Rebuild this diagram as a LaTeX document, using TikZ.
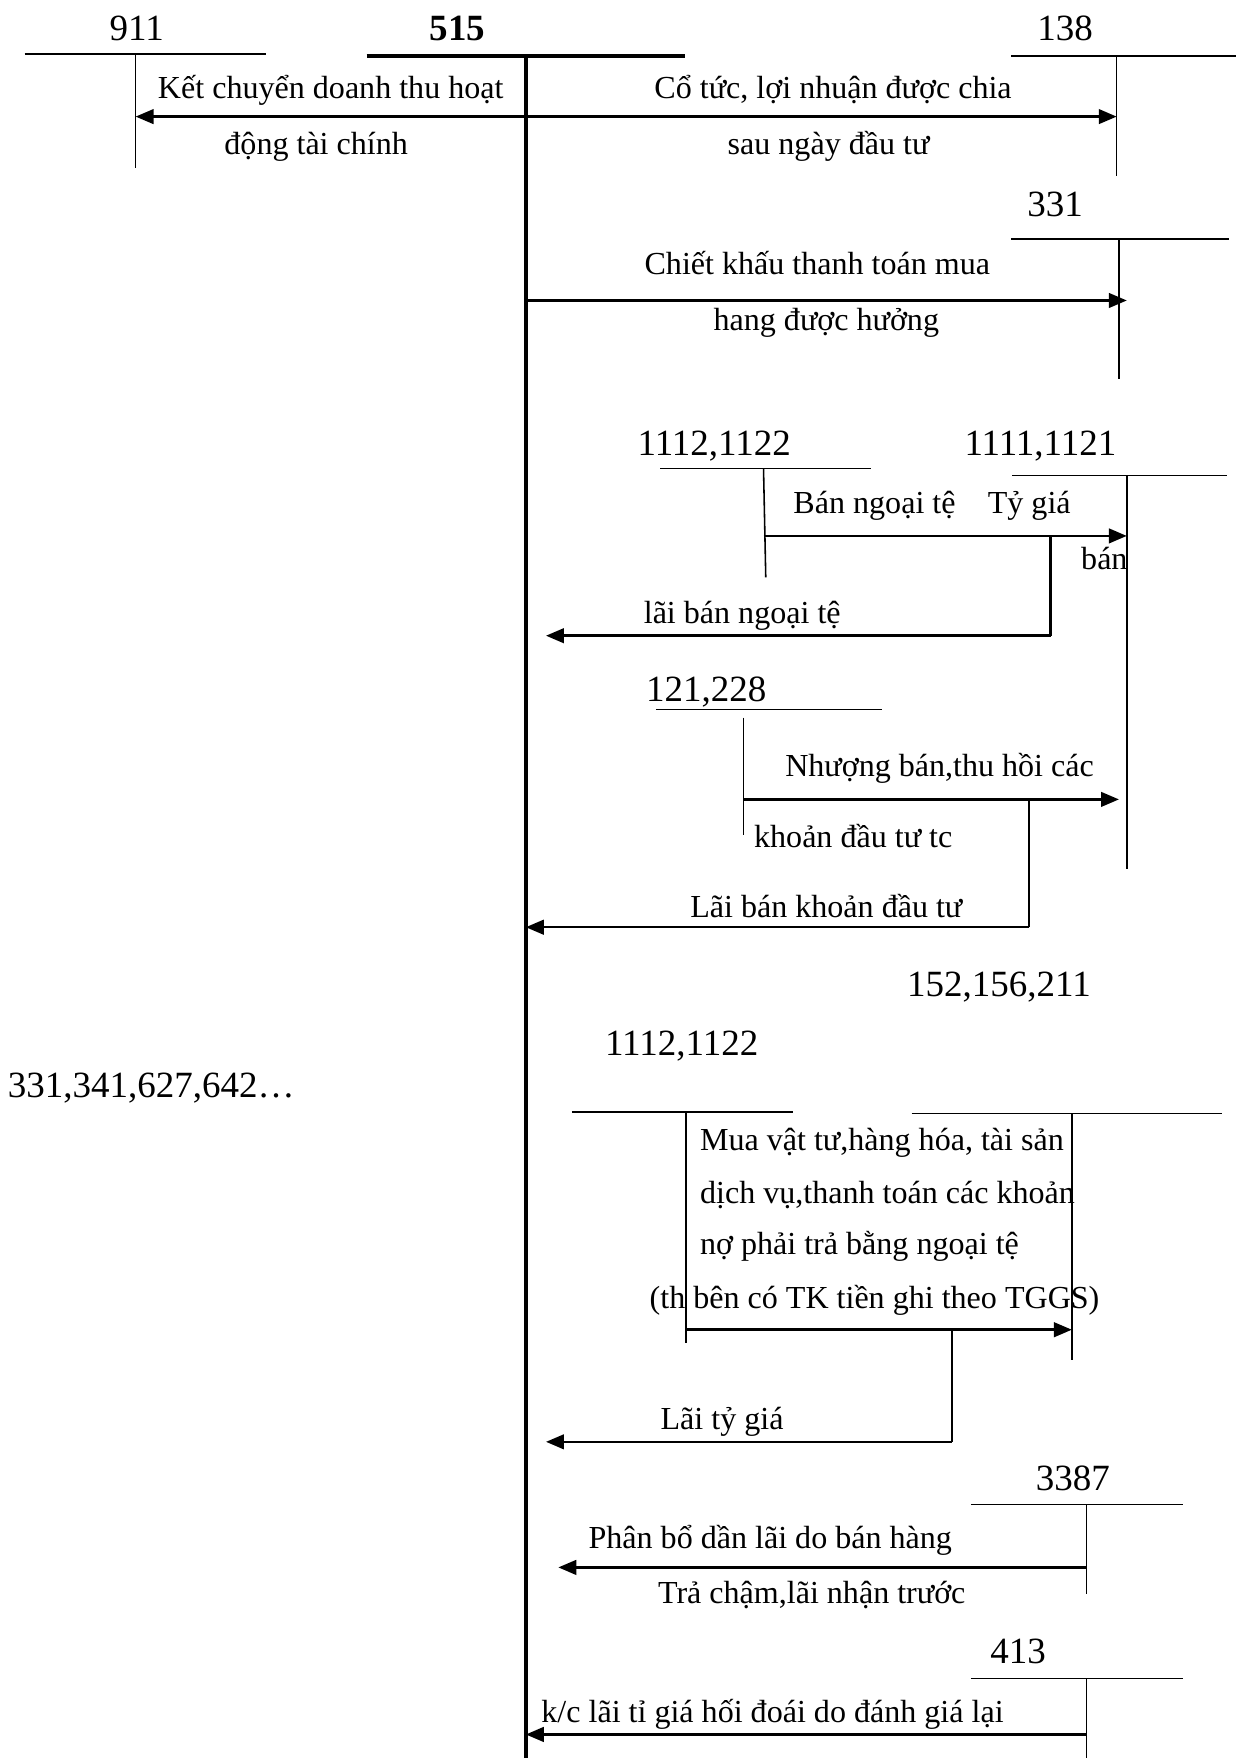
\documentclass[tikz,border=0pt]{standalone}
\usepackage{fontspec}
\setmainfont{Liberation Serif}
\usetikzlibrary{arrows.meta}
\begin{document}
\begin{tikzpicture}[x=0.5pt,y=-0.5pt,
  acct/.style={line width=0.7pt},
  mainacct/.style={line width=1.9pt},
  flow/.style={line width=1.1pt,-{Triangle[length=8pt,width=6.5pt]}},
  lnk/.style={line width=1.1pt},
  num/.style={font=\fontsize{16.5}{19}\selectfont, inner sep=0pt, anchor=base},
  desc/.style={font=\fontsize{14.3}{17}\selectfont, inner sep=0pt, anchor=base},
]
\useasboundingbox (0,0) rectangle (1102,1568);

% ---- 911
\node[num] (n911) at (122,36) {911};
\coordinate (h911a) at (22,48); \coordinate (h911b) at (237,48);
\coordinate (v911a) at (121,48); \coordinate (v911b) at (121,150);
\draw[acct] (h911a) -- (h911b); \draw[acct] (v911a) -- (v911b);

% ---- 515
\node[num,font=\fontsize{16.5}{19}\selectfont\bfseries] (n515) at (408,36) {515};
\coordinate (h515a) at (327,50); \coordinate (h515b) at (611,50);
\coordinate (v515a) at (469,50); \coordinate (v515b) at (469,1568);
\draw[mainacct] (h515a) -- (h515b); \draw[mainacct] (v515a) -- (v515b);

% ---- 138
\node[num] (n138) at (950,36) {138};
\coordinate (h138a) at (902,50); \coordinate (h138b) at (1102,50);
\coordinate (v138a) at (996,50); \coordinate (v138b) at (996,157);
\draw[acct] (h138a) -- (h138b); \draw[acct] (v138a) -- (v138b);

% arrows top
\coordinate (s1) at (469,104);
\coordinate (e911) at (121,104);
\coordinate (e138) at (996,104);
\draw[flow] (s1) -- (e911);
\draw[flow] (s1) -- (e138);
\node[desc] (t1a) at (295,88) {Kết chuyển doanh thu hoạt};
\node[desc] (t1b) at (282,138) {động tài chính};
\node[desc] (t2a) at (743,88) {Cổ tức, lợi nhuận được chia};
\node[desc] (t2b) at (739,138) {sau ngày đầu tư};

% ---- 331
\node[num] (n331) at (941,193) {331};
\coordinate (h331a) at (902,213); \coordinate (h331b) at (1096,213);
\coordinate (v331a) at (998,213); \coordinate (v331b) at (998,338);
\draw[acct] (h331a) -- (h331b); \draw[acct] (v331a) -- (v331b);
\coordinate (s2) at (469,268); \coordinate (e331) at (1005,268);
\draw[flow] (s2) -- (e331);
\node[desc] (t3a) at (729,245) {Chiết khấu thanh toán mua};
\node[desc] (t3b) at (737,295) {hang được hưởng};

% ---- 1112,1122 / 1111,1121
\node[num] (n1112) at (637,406) {1112,1122};
\coordinate (h1112a) at (589,418); \coordinate (h1112b) at (777,418);
\coordinate (v1112a) at (681,418); \coordinate (v1112b) at (683,515);
\draw[acct] (h1112a) -- (h1112b); \draw[acct] (v1112a) -- (v1112b);

\node[num] (n1111) at (928,406) {1111,1121};
\coordinate (h1111a) at (903,424); \coordinate (h1111b) at (1094,424);
\coordinate (v1111a) at (1005,424); \coordinate (v1111b) at (1005,775);
\draw[acct] (h1111a) -- (h1111b); \draw[acct] (v1111a) -- (v1111b);

\coordinate (s3) at (681,478); \coordinate (e1111) at (1005,478);
\draw[flow] (s3) -- (e1111);
\node[desc] (t4a) at (780,458) {Bán ngoại tệ};
\node[desc] (t4b) at (918,458) {Tỷ giá};
\node[desc] (t4c) at (985,508) {bán};
\coordinate (b1) at (937,478); \coordinate (b2) at (937,567); \coordinate (e4) at (487,567);
\draw[lnk] (b1) -- (b2);
\draw[flow] (b2) -- (e4);
\node[desc] (t5) at (662,556) {lãi bán ngoại tệ};

% ---- 121,228
\node[num] (n121) at (630,626) {121,228};
\coordinate (h121a) at (585,633); \coordinate (h121b) at (787,633);
\coordinate (v121a) at (663,640); \coordinate (v121b) at (663,745);
\draw[acct] (h121a) -- (h121b); \draw[acct] (v121a) -- (v121b);
\coordinate (s4) at (663,713); \coordinate (e5) at (998,713);
\draw[flow] (s4) -- (e5);
\node[desc] (t6a) at (838,693) {Nhượng bán,thu hồi các};
\node[desc] (t6b) at (761,756) {khoản đầu tư tc};
\coordinate (c1) at (918,713); \coordinate (c2) at (918,827); \coordinate (e6) at (469,827);
\draw[lnk] (c1) -- (c2);
\draw[flow] (c2) -- (e6);
\node[desc] (t7) at (737,818) {Lãi bán khoản đầu tư};

% ---- 152,156,211 / 1112,1122 / 331,...
\node[num] (n152) at (891,889) {152,156,211};
\node[num] (n1112b) at (608,941) {1112,1122};
\node[num] (n331b) at (135,979) {331,341,627,642…};

\coordinate (hLa) at (510,992); \coordinate (hLb) at (707,992);
\coordinate (hRa) at (813,993); \coordinate (hRb) at (1090,993);
\coordinate (vLa) at (612,992); \coordinate (vLb) at (612,1198);
\coordinate (vRa) at (956,993); \coordinate (vRb) at (956,1213);
\draw[acct] (hLa) -- (hLb); \draw[acct] (hRa) -- (hRb);
\draw[acct] (vLa) -- (vLb); \draw[acct] (vRa) -- (vRb);

\node[desc,anchor=base west] (t8a) at (624,1026) {Mua vật tư,hàng hóa, tài sản};
\node[desc,anchor=base west] (t8b) at (624,1073) {dịch vụ,thanh toán các khoản};
\node[desc,anchor=base west] (t8c) at (624,1119) {nợ phải trả bằng ngoại tệ};
\node[desc] (t8d) at (780,1167) {(th bên có TK tiền ghi theo TGGS)};

\coordinate (s5) at (612,1186); \coordinate (e7) at (956,1186);
\draw[flow] (s5) -- (e7);
\coordinate (d1) at (849,1186); \coordinate (d2) at (849,1286); \coordinate (e8) at (487,1286);
\draw[lnk] (d1) -- (d2);
\draw[flow] (d2) -- (e8);
\node[desc] (t9) at (644,1275) {Lãi tỷ giá};

% ---- 3387
\node[num] (n3387) at (957,1329) {3387};
\coordinate (h3387a) at (866,1342); \coordinate (h3387b) at (1055,1342);
\coordinate (v3387a) at (969,1342); \coordinate (v3387b) at (969,1422);
\draw[acct] (h3387a) -- (h3387b); \draw[acct] (v3387a) -- (v3387b);
\coordinate (s6) at (969,1398); \coordinate (e9) at (498,1398);
\draw[flow] (s6) -- (e9);
\node[desc] (t10a) at (687,1381) {Phân bổ dần lãi do bán hàng};
\node[desc] (t10b) at (724,1430) {Trả chậm,lãi nhận trước};

% ---- 413
\node[num] (n413) at (908,1484) {413};
\coordinate (h413a) at (866,1497); \coordinate (h413b) at (1055,1497);
\coordinate (v413a) at (969,1497); \coordinate (v413b) at (969,1568);
\draw[acct] (h413a) -- (h413b); \draw[acct] (v413a) -- (v413b);
\coordinate (s7) at (969,1547); \coordinate (e10) at (469,1547);
\draw[flow] (s7) -- (e10);
\node[desc] (t11) at (689,1536) {k/c lãi tỉ giá hối đoái do đánh giá lại};

\end{tikzpicture}
\end{document}
